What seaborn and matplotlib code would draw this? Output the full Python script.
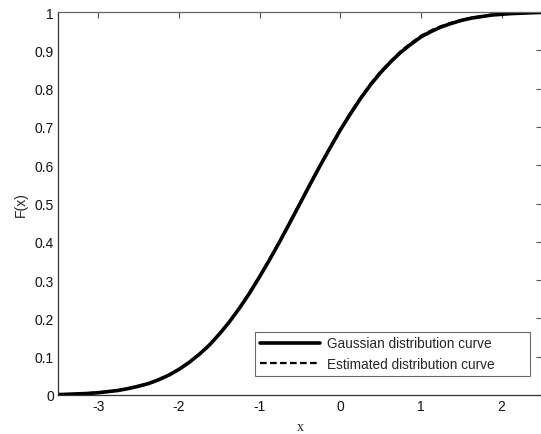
import matplotlib
matplotlib.use("Agg")
import matplotlib.pyplot as plt
import seaborn as sns
import pandas as pd

sns.set_style("white")
plt.rcParams['font.family'] = ['Liberation Sans', 'DejaVu Sans']

x_vals = [-3.5, -3.375, -3.25, -3.125, -3.0, -2.875, -2.75, -2.625, -2.5, -2.375,
          -2.25, -2.125, -2.0, -1.875, -1.75, -1.625, -1.5, -1.375, -1.25, -1.125,
          -1.0, -0.875, -0.75, -0.625, -0.5, -0.375, -0.25, -0.125, 0.0, 0.125,
          0.25, 0.375, 0.5, 0.625, 0.75, 0.875, 1.0, 1.125, 1.25, 1.375,
          1.5, 1.625, 1.75, 1.875, 2.0, 2.125, 2.25, 2.375, 2.5]
gauss_vals = [0.001, 0.002, 0.003, 0.004, 0.006, 0.009, 0.012, 0.017, 0.023, 0.030,
              0.040, 0.052, 0.067, 0.085, 0.106, 0.130, 0.159, 0.191, 0.227, 0.266,
              0.309, 0.354, 0.401, 0.450, 0.500, 0.550, 0.599, 0.646, 0.692, 0.734,
              0.774, 0.810, 0.842, 0.870, 0.895, 0.916, 0.935, 0.949, 0.961, 0.970,
              0.978, 0.984, 0.988, 0.992, 0.994, 0.996, 0.997, 0.998, 0.999]
est_vals = [0.001, 0.002, 0.003, 0.005, 0.007, 0.009, 0.013, 0.017, 0.024, 0.031,
            0.041, 0.053, 0.068, 0.086, 0.107, 0.131, 0.160, 0.192, 0.228, 0.268,
            0.311, 0.356, 0.403, 0.452, 0.502, 0.552, 0.601, 0.648, 0.694, 0.737,
            0.776, 0.813, 0.845, 0.872, 0.898, 0.919, 0.938, 0.952, 0.963, 0.972,
            0.979, 0.985, 0.989, 0.993, 0.995, 0.997, 0.998, 0.999, 0.999]

x_ticks = [-3, -2, -1, 0, 1, 2]
y_ticks = [0, 0.1, 0.2, 0.3, 0.4, 0.5, 0.6, 0.7, 0.8, 0.9, 1]
y_tick_labels = ["0", "0.1", "0.2", "0.3", "0.4", "0.5", "0.6", "0.7", "0.8", "0.9", "1"]

df = pd.DataFrame({"x": x_vals, "g": gauss_vals, "e": est_vals})

fig = plt.figure(figsize=(5.41, 4.35), dpi=100)
ax = fig.add_axes([58/541, 39/435, 484/541, 383/435])

sns.lineplot(data=df, x="x", y="g", ax=ax, color="black", lw=2.6,
             label="Gaussian distribution curve", solid_joinstyle="round")
sns.lineplot(data=df, x="x", y="e", ax=ax, color="black", lw=1.6,
             linestyle=(0, (3, 1.5)), label="Estimated distribution curve")

ax.set_xlim(-3.5, 2.5)
ax.set_ylim(0, 1)
ax.set_xticks(x_ticks)
ax.set_xticklabels([str(t) for t in x_ticks])
ax.set_yticks(y_ticks)
ax.set_yticklabels(y_tick_labels)
ax.tick_params(direction="in", length=4, width=0.8, colors="#555555",
               labelcolor="#111111", labelsize=10, top=True, right=True,
               pad=3)
for s in ax.spines.values():
    s.set_color("#666666")
    s.set_linewidth(0.9)
ax.spines["left"].set_color("#333333")
ax.spines["bottom"].set_color("#333333")

ax.set_xlabel("x", fontsize=10, family=["Liberation Serif", "DejaVu Serif"], labelpad=5)
ax.set_ylabel("F(x)", fontsize=10, labelpad=5)

leg = ax.legend(loc="lower left", bbox_to_anchor=(0.408, 0.05, 0.567, 0.122),
                mode="expand", fontsize=9.8, frameon=True, fancybox=False,
                edgecolor="#444444", handlelength=4.4, borderpad=0.35,
                labelspacing=0.5, handletextpad=0.5, borderaxespad=0)
leg.get_frame().set_linewidth(0.8)

fig.savefig("out.png", dpi=100)
